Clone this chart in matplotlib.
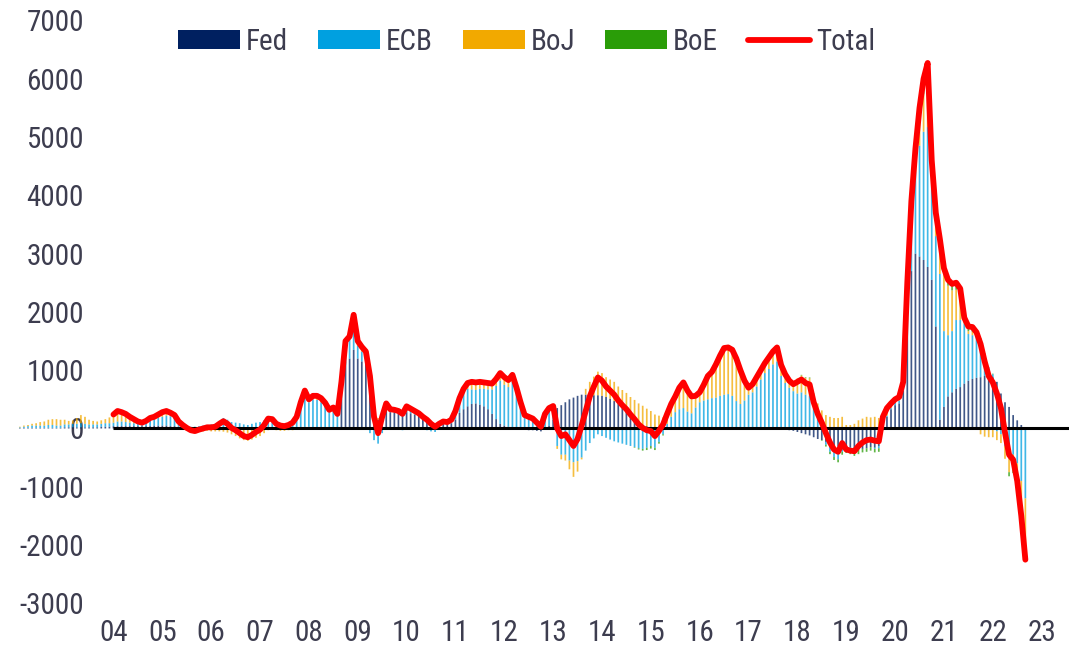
import numpy as np
import matplotlib
matplotlib.use("Agg")
from matplotlib import pyplot as plt
from matplotlib import font_manager
from matplotlib.patches import Patch
from matplotlib.lines import Line2D

# monthly values, Feb 2002 .. Sep 2022 (one row per year)
fed = [
    10, 10, 10, 10, 10, 10, 10, 10, 10, 10, 10,                 # 2002 (from Feb)
    20, 20, 20, 20, 20, 20, 20, 20, 20, 30, 30, 30,             # 2003
    40, 40, 40, 40, 40, 40, 40, 40, 40, 40, 50, 50,             # 2004
    50, 50, 40, 40, 30, 30, 20, 20, 20, 20, 20, 20,             # 2005
    10, 10, 10, 10, 10, 10, 10, 10, 10, 10, 10, 10,             # 2006
    10, 10, 10, 10, 0, 0, 0, 0, 10, 10, 20, 30,                 # 2007
    30, 20, 10, 0, 0, 0, 0, 0, 500, 1150, 1200, 1350,           # 2008
    1200, 1150, 1150, 900, 350, 150, 250, 300, 280, 280, 260, 250,  # 2009
    280, 260, 240, 220, 180, 150, 100, 60, 70, 80, 70, 90,      # 2010
    150, 270, 330, 380, 420, 430, 410, 380, 330, 250, 160, 80,  # 2011
    50, 30, 20, 0, -10, -20, -30, -30, -40, -50, 0, 50,         # 2012
    150, 350, 400, 450, 500, 530, 560, 580, 580, 580, 570, 570,  # 2013
    560, 540, 510, 470, 420, 360, 290, 220, 160, 100, 60, 40,   # 2014
    30, 20, 10, 0, 0, 0, 0, 0, 0, 0, 0, 0,                      # 2015
    0, 0, 0, 0, 0, 0, 0, 0, 0, 0, 0, 0,                         # 2016
    0, 0, 0, 0, 0, 0, 0, 0, -10, -20, -30, -40,                 # 2017
    -60, -80, -100, -120, -150, -180, -200, -230, -260, -290, -300, -300,  # 2018
    -300, -330, -360, -350, -350, -340, -320, -330, -300, 50, 200, 330,    # 2019
    400, 430, 650, 1900, 2700, 3000, 2950, 2890, 2770, 2550, 1750, 150,   # 2020
    370, 550, 620, 680, 710, 770, 820, 850, 870, 880, 900, 900,  # 2021
    880, 800, 600, 450, 370, 230, 140, 60, 10,                  # 2022 (to Sep)
]

ecb = [
    10, 20, 30, 40, 40, 40, 40, 50, 50, 40, 40,
    50, 50, 60, 60, 70, 60, 50, 50, 50, 50, 60, 60,
    60, 80, 80, 70, 60, 50, 40, 40, 70, 110, 110, 130,
    150, 170, 170, 150, 80, 50, 30, 10, 10, 20, 30, 40,
    60, 70, 120, 170, 140, 100, 90, 80, 60, 50, 70, 90,
    100, 130, 190, 170, 110, 90, 80, 90, 120, 200, 410, 580,
    420, 480, 480, 450, 380, 280, 320, 220, 270, 300, 320, 500,
    220, 170, 90, -80, -200, -260, -80, 100, 20, 10, 10, -30,
    70, 50, 30, 10, -10, -30, -50, -60, -20, 10, 10, 30,
    120, 200, 280, 300, 250, 230, 270, 300, 340, 420, 570, 740,
    700, 680, 780, 600, 380, 200, 190, 160, 110, 60, 220, 270,
    200, -300, -450, -450, -550, -580, -560, -500, -380, -250, -170, -100,
    -130, -160, -190, -220, -240, -260, -280, -300, -320, -340, -350, -330,
    -300, -330, -230, -100, 80, 200, 280, 330, 350, 290, 260, 360,
    450, 480, 500, 520, 530, 560, 580, 590, 560, 470, 420, 480,
    580, 620, 720, 840, 950, 1020, 1100, 1150, 900, 780, 700, 640,
    600, 620, 580, 560, 350, 200, 70, -50, -140, -200, -230, -100,
    -60, -50, -40, -20, 0, 10, 0, -20, -40, 20, 20, 20,
    40, 50, 80, 400, 900, 1400, 1900, 2200, 2400, 1600, 1550, 2500,
    1300, 1050, 1050, 1180, 1150, 1030, 800, 750, 700, 650, 380, 150,
    50, -50, -100, -300, -450, -450, -600, -900, -1200,
]

boj = [
    10, 20, 20, 30, 40, 60, 70, 90, 100, 110, 100,
    80, 60, 60, 100, 140, 120, 80, 60, 50, 60, 70, 100,
    140, 180, 160, 140, 100, 70, 40, 20, 20, 30, 40, 60,
    80, 80, 60, 40, 10, -20, -40, -60, -75, -60, -50, -40,
    -50, -50, -50, -55, -70, -100, -130, -170, -200, -210, -190, -160,
    -130, -80, -30, -20, -30, -40, -40, -30, -30, -10, 20, 40,
    50, 60, 70, 70, 60, 40, 40, 30, 30, 50, 60, 100,
    80, 80, 80, 80, 50, 30, 30, 30, 30, 30, 30, 30,
    30, 30, 30, 30, 30, 30, 30, 30, 30, 30, 30, 30,
    30, 50, 70, 100, 130, 130, 120, 110, 110, 100, 120, 130,
    130, 120, 120, 100, 80, 50, 40, 40, 30, 20, 30, 30,
    35, -50, -80, -100, -150, -250, -180, -30, 100, 220, 320, 405,
    390, 340, 330, 330, 300, 300, 320, 320, 330, 330, 330, 300,
    270, 220, 210, 190, 180, 220, 270, 370, 440, 360, 290, 200,
    170, 270, 400, 450, 570, 690, 800, 800, 790, 730, 580, 340,
    120, 140, 160, 160, 170, 200, 220, 240, 200, 170, 150, 160,
    260, 290, 290, 300, 240, 230, 240, 230, 200, 180, 180, 200,
    60, 60, 80, 140, 170, 190, 190, 200, 180, 160, 130, 70,
    30, 40, 50, 150, 200, 250, 450, 650, 800, 350, 330, 500,
    1000, 850, 700, 520, 430, 20, 50, 60, 10, -100, -140, -150,
    -150, -150, -150, -220, -300, -250, -400, -600, -1000,
]

boe = [
    0, 0, 0, 0, 0, 0, 0, 0, 0, 0, 0,
    0, 0, 0, 0, 0, 0, 0, 0, 0, 0, 0, 0,
    0, 0, 0, 0, 0, 0, 0, 0, 0, 0, 0, 0,
    0, 0, 0, 0, 0, 0, 0, 0, 0, 0, 0, 0,
    0, 0, 0, 0, 0, 0, 0, 0, 0, 0, 0, 0,
    0, 0, 0, 0, 0, 0, 0, 0, 0, 0, 0, 0,
    0, 0, 0, 0, 0, 0, 0, 0, 0, 0, 0, 0,
    0, 0, 0, 0, 0, 0, 0, 0, 0, 0, 0, 0,
    0, 0, 0, 0, 0, 0, 0, 0, 0, 0, 0, 0,
    0, 0, 0, 0, 0, 0, 0, 0, 0, 0, 0, 0,
    0, 0, 0, 0, 0, 0, 0, 0, 0, 0, 0, 0,
    0, 0, 0, 0, 0, 0, 0, 0, 0, 0, 0, 0,
    0, 0, 0, 0, 0, 0, 0, 0, -10, -20, -30, -40,
    -45, -40, -30, -20, -10, 0, 0, 0, 0, 0, 0, 0,
    0, 0, 0, 0, 0, 0, 0, 0, 0, 0, 0, 0,
    0, 0, 0, 0, 0, 0, 0, 0, 0, 0, 0, 0,
    0, 10, 10, 15, 10, 0, -10, -30, -40, -50, -50, -50,
    -60, -60, -70, -70, -60, -60, -60, -60, -60, -30, 0, 10,
    30, 20, 20, 50, 100, 150, 200, 260, 300, 100, 70, 100,
    80, 100, 110, 120, 110, 80, 80, 80, 70, 20, 10, 0,
    10, 0, 0, 0, -70, -65, -40, -60, -60,
]

names = ['Fed', 'ECB', 'BoJ', 'BoE']
colors = ['#002060', '#00a0e0', '#f2a900', '#2a9d08']
total_color = '#ff0000'
text_color = '#3d3d4f'

start_year, start_month = 2002, 2
line_start = 2004
year_ticks = list(range(2004, 2024))
y_ticks = list(range(-3000, 7001, 1000))


def pick_font():
    have = {f.name for f in font_manager.fontManager.ttflist}
    for name, size in [('Liberation Sans Narrow', 21), ('DejaVu Sans Condensed', 18),
                       ('Roboto Condensed', 21), ('Open Sans Condensed', 21)]:
        if name in have:
            return name, size
    return 'Roboto', 18.5


def main():
    font, fsize = pick_font()
    plt.rcParams['font.family'] = [font, 'DejaVu Sans']

    series = [np.array(s, float) for s in (fed, ecb, boj, boe)]
    n = len(series[0])
    t = start_year + (start_month - 1 + np.arange(n)) / 12.0

    fig = plt.figure(figsize=(10.69, 6.47), dpi=100)
    ax = fig.add_axes([0, 35 / 647, 1, 612 / 647])
    xmin, xmax = 2001.677, 2023.56
    ax.set_xlim(xmin, xmax)
    ax.set_ylim(-3148, 7350)

    pos = np.zeros(n)
    neg = np.zeros(n)
    for v, col in zip(series, colors):
        bottom = np.where(v >= 0, pos, neg)
        ax.bar(t, v, width=0.42 / 12, bottom=bottom, color=col, linewidth=0,
               zorder=2, snap=False, alpha=0.75)
        pos += np.clip(v, 0, None)
        neg += np.clip(v, None, 0)

    total = sum(series)
    m = t >= line_start - 1e-9
    ax.hlines(0, line_start, xmax, color='black', lw=2.2, zorder=3)
    ax.plot(t[m], total[m], color=total_color, lw=4.2, solid_joinstyle='round',
            solid_capstyle='round', zorder=4)

    for s in ax.spines.values():
        s.set_visible(False)
    ax.set_yticks(y_ticks)
    ax.set_yticklabels([str(v) for v in y_ticks])
    ax.set_xticks(year_ticks)
    ax.set_xticklabels(['%02d' % (y % 100) for y in year_ticks])
    ax.tick_params(axis='y', length=0, pad=-60.5, labelsize=fsize, labelcolor=text_color)
    ax.tick_params(axis='x', length=0, pad=5, labelsize=fsize, labelcolor=text_color)

    px = fsize * 100 / 72
    handles = [Patch(facecolor=c, edgecolor='none') for c in colors]
    handles.append(Line2D([], [], color=total_color, lw=4.2, solid_capstyle='round'))
    fig.legend(handles, names + ['Total'], loc='center left',
               bbox_to_anchor=(178 / 1069, 1 - 42 / 647), ncol=5, frameon=False,
               fontsize=fsize, handlelength=62 / px, handleheight=0.6,
               handletextpad=0.2, columnspacing=30 / px, borderpad=0,
               borderaxespad=0, labelcolor=text_color)

    fig.savefig('out.png', dpi=100)


main()
